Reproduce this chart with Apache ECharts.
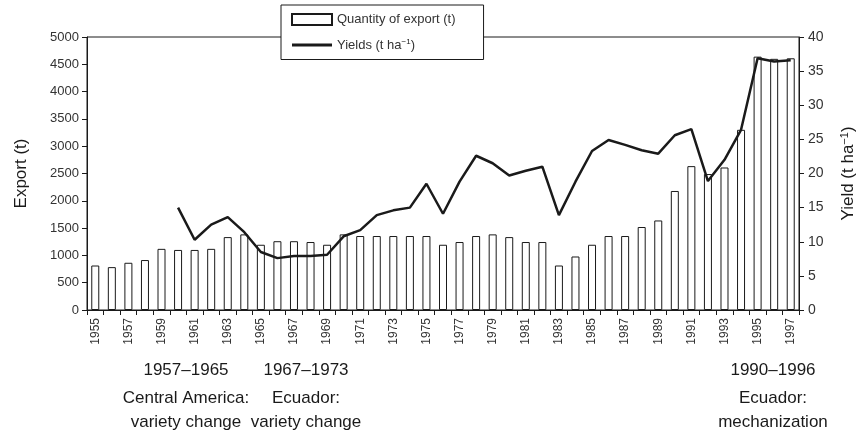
<!DOCTYPE html>
<html>
<head>
<meta charset="utf-8">
<script src="https://cdn.jsdelivr.net/npm/echarts@6/dist/echarts.min.js"></script>
<style>
  html, body { margin: 0; padding: 0; background: #fff; }
  #chart { width: 865px; height: 436px; }
</style>
</head>
<body>
<div id="chart"></div>
<script>
// years 1955-1997
const years = [
  "1955", "1956", "1957", "1958", "1959", "1960", "1961", "1962", "1963", "1964",
  "1965", "1966", "1967", "1968", "1969", "1970", "1971", "1972", "1973", "1974",
  "1975", "1976", "1977", "1978", "1979", "1980", "1981", "1982", "1983", "1984",
  "1985", "1986", "1987", "1988", "1989", "1990", "1991", "1992", "1993", "1994",
  "1995", "1996", "1997"
];

// quantity of export (t)
const exportQty = [
  815, 785, 865, 915, 1120, 1100, 1100, 1120, 1335, 1385,
  1195, 1260, 1260, 1245, 1195, 1385, 1355, 1355, 1355, 1355,
  1355, 1195, 1245, 1355, 1385, 1335, 1245, 1245, 815, 980,
  1195, 1355, 1355, 1520, 1640, 2180, 2635, 2490, 2610, 3300,
  4640, 4600, 4610
];

// yields (t/ha), no data before 1960
const yields = [
  "-", "-", "-", "-", "-", 15.0, 10.3, 12.5, 13.6, 11.4,
  8.5, 7.6, 7.9, 7.9, 8.1, 10.8, 11.7, 13.9, 14.6, 15.0,
  18.5, 14.1, 18.8, 22.6, 21.5, 19.7, 20.4, 21.0, 13.9, 18.8,
  23.3, 24.9, 24.2, 23.4, 22.9, 25.6, 26.5, 18.9, 22.0, 26.4,
  36.9, 36.4, 36.6
];

const exportTicks = { min: 0, max: 5000, interval: 500 };
const yieldTicks = { min: 0, max: 40, interval: 5 };

// notes under the axis: [centre x, lines]
const notes = [
  [186, ["1957–1965", "Central America:", "variety change"]],
  [306, ["1967–1973", "Ecuador:", "variety change"]],
  [773, ["1990–1996", "Ecuador:", "mechanization"]]
];

const chart = echarts.init(document.getElementById("chart"));

const font = "Liberation Sans, Arial, sans-serif";
const ink = "#1a1a1a";
const grey = "#333";

const noteGraphics = [];
notes.forEach(([cx, lines]) => {
  lines.forEach((t, i) => {
    noteGraphics.push({
      type: "text",
      x: cx,
      y: [362, 390, 414][i],
      style: { text: t, fontSize: 17, fill: ink, fontFamily: font, align: "center" }
    });
  });
});

const option = {
  animation: false,
  textStyle: { fontFamily: font, color: ink },
  grid: {
    left: 87,
    right: 62,
    top: 37,
    bottom: 126,
    show: true,
    borderColor: ink,
    borderWidth: 1
  },
  legend: {
    left: 281,
    top: 5,
    orient: "vertical",
    itemGap: 12,
    padding: [8, 10, 8, 10],
    borderColor: ink,
    borderWidth: 1,
    backgroundColor: "#fff",
    itemWidth: 40,
    itemHeight: 11,
    textStyle: {
      fontFamily: font,
      fontSize: 13,
      color: grey,
      rich: { sup: { fontSize: 8, verticalAlign: "top", padding: [0, 0, 6, 0] } }
    },
    formatter: (name) =>
      name === "Yields" ? "Yields (t ha{sup|−1})" : "Quantity of export (t)     ",
    data: [
      { name: "Quantity of export (t)", icon: "rect" },
      { name: "Yields", icon: "path://M0,0 L40,0 L40,3 L0,3 Z" }
    ]
  },
  xAxis: {
    type: "category",
    data: years,
    boundaryGap: true,
    axisLine: { lineStyle: { color: ink, width: 1 } },
    axisTick: { show: true, interval: 0, length: 5, lineStyle: { color: ink } },
    axisLabel: {
      interval: 1,
      rotate: 90,
      fontSize: 12,
      color: grey,
      margin: 8
    }
  },
  yAxis: [
    {
      type: "value",
      min: exportTicks.min,
      max: exportTicks.max,
      interval: exportTicks.interval,
      name: "Export (t)",
      nameLocation: "middle",
      nameGap: 57,
      nameTextStyle: { fontSize: 17, color: ink, fontFamily: font },
      axisLine: { show: true, lineStyle: { color: ink } },
      axisTick: { show: true, length: 5, lineStyle: { color: ink } },
      axisLabel: { fontSize: 13, color: grey, margin: 8, formatter: (v) => String(v) },
      splitLine: { show: false }
    },
    {
      type: "value",
      position: "right",
      min: yieldTicks.min,
      max: yieldTicks.max,
      interval: yieldTicks.interval,
      name: "Yield (t ha{sup|−1})",
      nameLocation: "middle",
      nameGap: 40,
      nameRotate: 90,
      nameTextStyle: {
        fontSize: 17,
        color: ink,
        fontFamily: font,
        rich: { sup: { fontSize: 11, verticalAlign: "top", padding: [0, 0, 8, 0] } }
      },
      axisLine: { show: true, lineStyle: { color: ink } },
      axisTick: { show: true, length: 5, lineStyle: { color: ink } },
      axisLabel: { fontSize: 14, color: grey, margin: 9, formatter: (v) => String(v) },
      splitLine: { show: false }
    }
  ],
  series: [
    {
      name: "Quantity of export (t)",
      type: "bar",
      yAxisIndex: 0,
      data: exportQty,
      barWidth: 8,
      itemStyle: { color: "#fff", borderColor: ink, borderWidth: 1 }
    },
    {
      name: "Yields",
      type: "line",
      yAxisIndex: 1,
      data: yields,
      symbol: "none",
      connectNulls: false,
      lineStyle: { color: ink, width: 2.5 },
      itemStyle: { color: ink }
    }
  ],
  graphic: noteGraphics
};

chart.setOption(option);
</script>
</body>
</html>
